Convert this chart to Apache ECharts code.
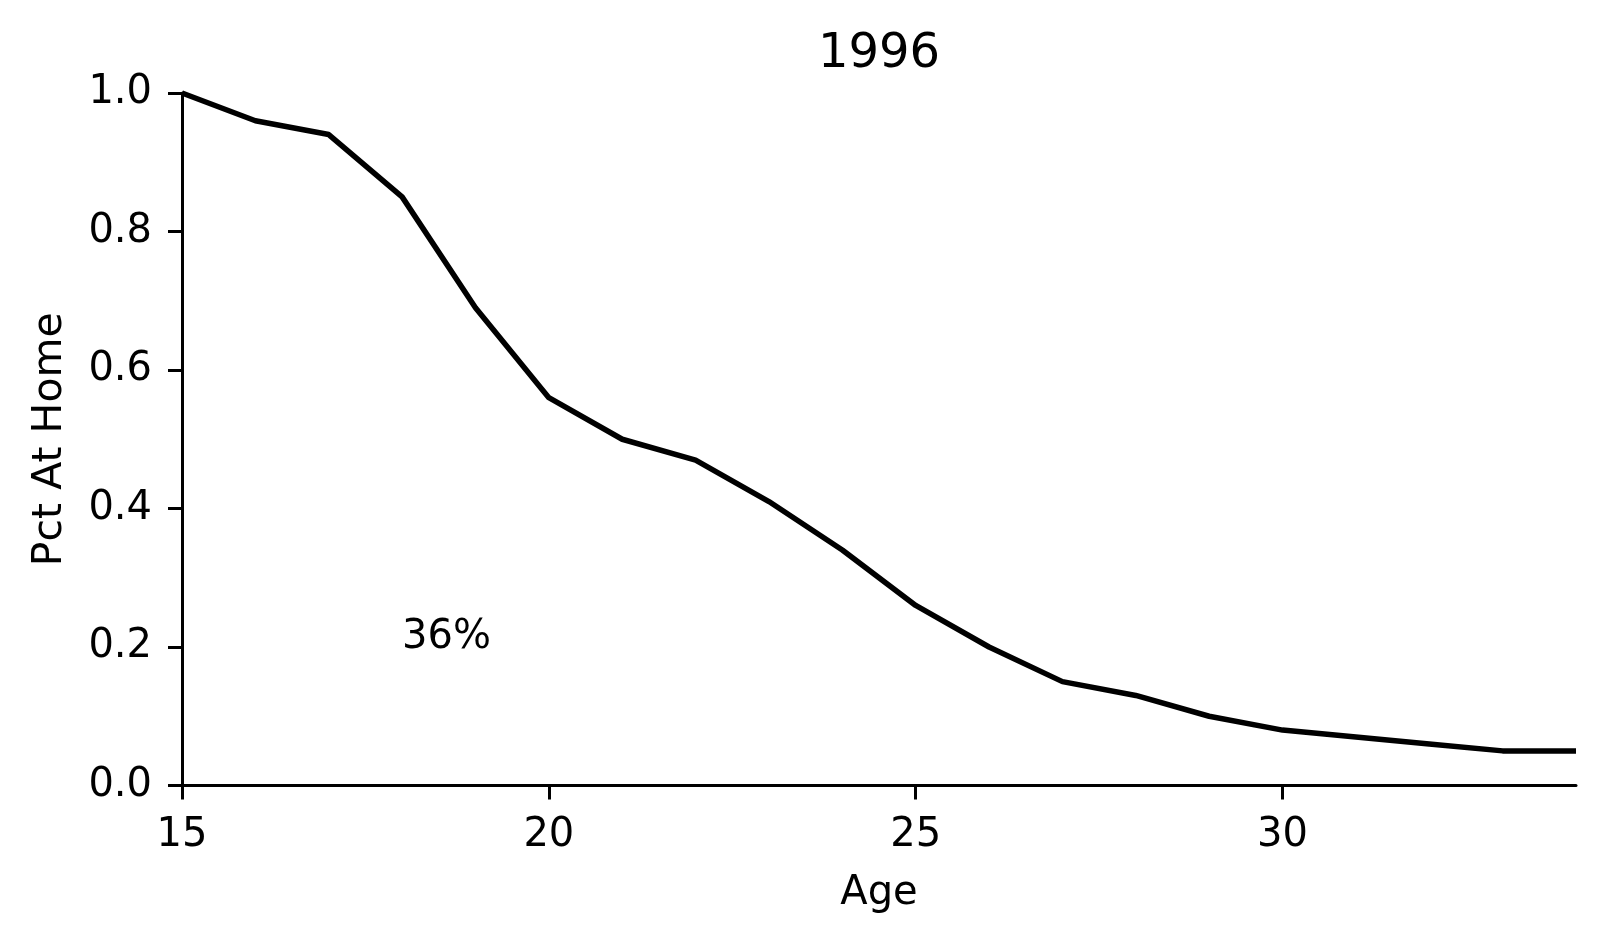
<!DOCTYPE html>
<html>
<head>
<meta charset="utf-8">
<script src="https://cdn.jsdelivr.net/npm/echarts@6/dist/echarts.min.js"></script>
<style>
html,body{margin:0;padding:0;background:#fff;}
#chart{width:1607px;height:941px;}
</style>
</head>
<body>
<div id="chart"></div>
<script>
const titleText = '1996';
const ages = [15,16,17,18,19,20,21,22,23,24,25,26,27,28,29,30,31,32,33,34];
const pctHome = [1.00,0.96,0.94,0.85,0.69,0.56,0.50,0.47,0.41,0.34,0.26,0.20,0.15,0.13,0.10,0.08,0.07,0.06,0.05,0.05];
const xTicks = [15,20,25,30];
const yTicks = [0,0.2,0.4,0.6,0.8,1.0];
const annotation = {x:18, y:0.2, text:'36%'};

const font = 'DejaVu Sans';
const chart = echarts.init(document.getElementById('chart'), null, {renderer:'canvas'});
chart.setOption({
  backgroundColor:'#ffffff',
  animation:false,
  title:{text:titleText, left:874, top:26, textAlign:'center',
    textStyle:{fontFamily:font, fontSize:48, fontWeight:'normal', color:'#000'}},
  grid:{left:182, right:31, top:93, bottom:155.5, containLabel:false},
  xAxis:{type:'value', min:15, max:34, interval:5,
    name:'Age', nameLocation:'middle', nameGap:88,
    nameTextStyle:{fontFamily:font, fontSize:40, color:'#000'},
    axisLine:{show:true, lineStyle:{color:'#000', width:3}},
    axisTick:{show:true, length:14, lineStyle:{color:'#000', width:3}, customValues:xTicks},
    axisLabel:{fontFamily:font, fontSize:40, color:'#000', margin:30, customValues:xTicks},
    splitLine:{show:false}},
  yAxis:{type:'value', min:0, max:1, interval:0.2,
    name:'Pct At Home', nameLocation:'middle', nameGap:111,
    nameTextStyle:{fontFamily:font, fontSize:41, color:'#000'},
    axisLine:{show:true, lineStyle:{color:'#000', width:3}},
    axisTick:{show:true, length:14, lineStyle:{color:'#000', width:3}, customValues:yTicks},
    axisLabel:{fontFamily:font, fontSize:40, color:'#000', margin:30, customValues:yTicks,
      formatter:v=>v.toFixed(1)},
    splitLine:{show:false}},
  series:[
    {type:'line', data:ages.map((a,i)=>[a,pctHome[i]]), showSymbol:false, symbol:'none',
      lineStyle:{color:'#000', width:5.5}, clip:false},
    {type:'scatter', data:[[annotation.x, annotation.y]], symbolSize:0, silent:true,
      itemStyle:{opacity:1, color:'#000'},
      label:{show:true, formatter:annotation.text, position:[0,0], align:'left', verticalAlign:'bottom',
        offset:[0,11], fontFamily:font, fontSize:40, color:'#000', opacity:1}}
  ]
});
</script>
</body>
</html>
